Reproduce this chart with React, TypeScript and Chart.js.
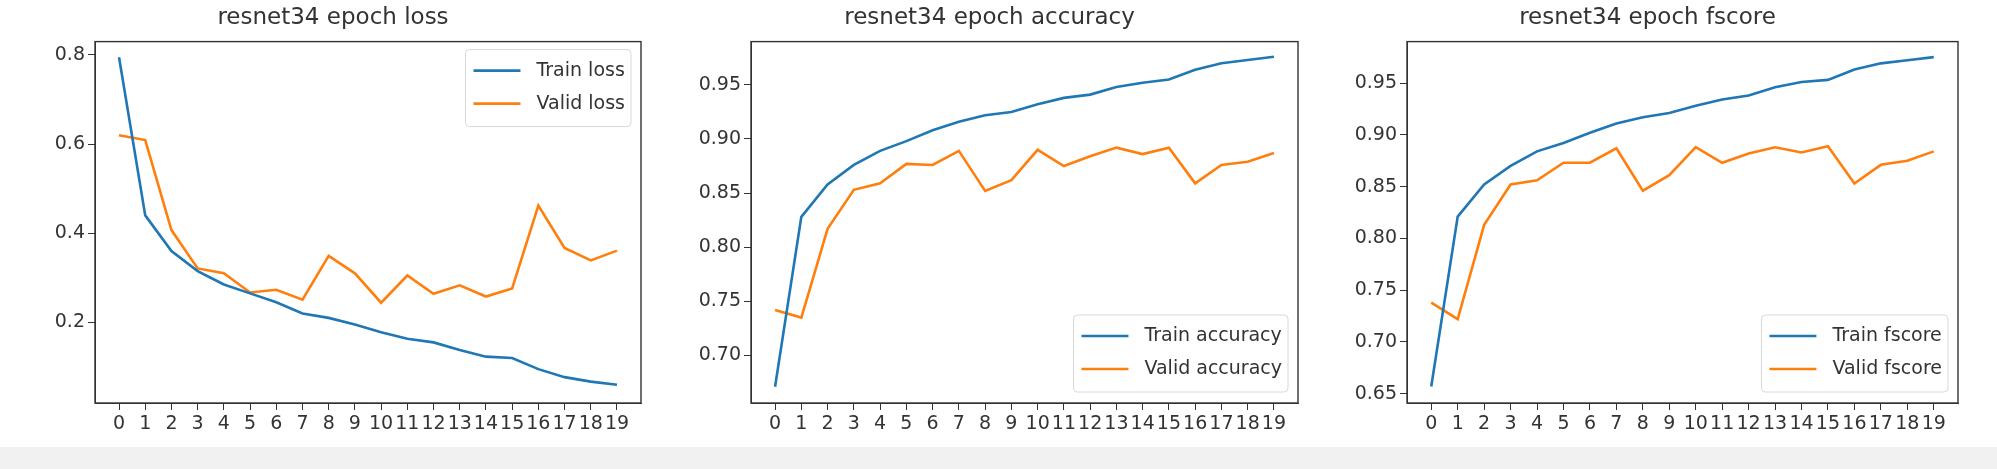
import React, { useEffect, useRef } from "react";
import { Chart, registerables } from "chart.js";

Chart.register(...registerables);

const epochs = [0, 1, 2, 3, 4, 5, 6, 7, 8, 9, 10, 11, 12, 13, 14, 15, 16, 17, 18, 19];

const trainLoss = [0.795, 0.44, 0.36, 0.315, 0.285, 0.265, 0.245, 0.22, 0.21, 0.195, 0.178, 0.163, 0.155, 0.138, 0.123, 0.12, 0.095, 0.077, 0.067, 0.06];
const validLoss = [0.62, 0.609, 0.407, 0.321, 0.31, 0.267, 0.273, 0.251, 0.349, 0.31, 0.244, 0.305, 0.264, 0.283, 0.258, 0.276, 0.462, 0.367, 0.339, 0.361];

const trainAcc = [0.671, 0.828, 0.858, 0.876, 0.889, 0.898, 0.908, 0.916, 0.922, 0.925, 0.932, 0.938, 0.941, 0.948, 0.952, 0.955, 0.964, 0.97, 0.973, 0.976];
const validAcc = [0.742, 0.735, 0.817, 0.853, 0.859, 0.877, 0.876, 0.889, 0.852, 0.862, 0.89, 0.875, 0.884, 0.892, 0.886, 0.892, 0.859, 0.876, 0.879, 0.887];

const trainF = [0.657, 0.821, 0.852, 0.87, 0.884, 0.892, 0.902, 0.911, 0.917, 0.921, 0.928, 0.934, 0.938, 0.946, 0.951, 0.953, 0.963, 0.969, 0.972, 0.975];
const validF = [0.738, 0.722, 0.813, 0.852, 0.856, 0.873, 0.873, 0.887, 0.846, 0.861, 0.888, 0.873, 0.882, 0.888, 0.883, 0.889, 0.853, 0.871, 0.875, 0.884];

const lossTicks = [0.2, 0.4, 0.6, 0.8];
const accTicks = [0.7, 0.75, 0.8, 0.85, 0.9, 0.95];
const fTicks = [0.65, 0.7, 0.75, 0.8, 0.85, 0.9, 0.95];

const BLUE = "#1f77b4";
const ORANGE = "#ff7f0e";
const FONT = "'DejaVu Sans', sans-serif";
const TXT = "#333";

type Panel = {
  title: string;
  names: [string, string];
  train: number[];
  valid: number[];
  ticks: number[];
  digits: number;
  min: number;
  max: number;
  legendTop: boolean;
  left: number;
  width: number;
};

const panels: Panel[] = [
  { title: "resnet34 epoch loss", names: ["Train loss", "Valid loss"], train: trainLoss, valid: validLoss, ticks: lossTicks, digits: 1, min: 0.019, max: 0.83, legendTop: true, left: 95, width: 546 },
  { title: "resnet34 epoch accuracy", names: ["Train accuracy", "Valid accuracy"], train: trainAcc, valid: validAcc, ticks: accTicks, digits: 2, min: 0.656, max: 0.99, legendTop: false, left: 751, width: 547 },
  { title: "resnet34 epoch fscore", names: ["Train fscore", "Valid fscore"], train: trainF, valid: validF, ticks: fTicks, digits: 2, min: 0.641, max: 0.99, legendTop: false, left: 1407, width: 551 },
];

const Y_W = 70;

const boxAndLegend = {
  id: "boxAndLegend",
  afterDraw(chart: any) {
    const { ctx, chartArea: a } = chart;
    const opts = chart.options.plugins.boxAndLegend;
    ctx.save();
    ctx.strokeStyle = "#333";
    ctx.lineWidth = 1.4;
    ctx.strokeRect(a.left, a.top, a.right - a.left, a.bottom - a.top);
    ctx.font = `19px ${FONT}`;
    const ds = chart.data.datasets;
    const tw = Math.max(...ds.map((d: any) => ctx.measureText(d.label).width));
    const w = 8 + 47 + 16 + tw + 6;
    const h = 77;
    const x = a.right - 10 - w;
    const y = opts.top ? a.top + 8 : a.bottom - 11 - h;
    ctx.fillStyle = "rgba(255,255,255,0.8)";
    ctx.strokeStyle = "#d8d8d8";
    ctx.lineWidth = 1;
    ctx.beginPath();
    ctx.roundRect(x, y, w, h, 4);
    ctx.fill();
    ctx.stroke();
    ds.forEach((d: any, i: number) => {
      const cy = y + 21 + i * 33;
      ctx.strokeStyle = d.borderColor;
      ctx.lineWidth = 2.6;
      ctx.beginPath();
      ctx.moveTo(x + 8, cy);
      ctx.lineTo(x + 55, cy);
      ctx.stroke();
      ctx.fillStyle = TXT;
      ctx.textBaseline = "middle";
      ctx.fillText(d.label, x + 71, cy);
    });
    ctx.restore();
  },
};

function PanelChart({ p }: { p: Panel }) {
  const ref = useRef<HTMLCanvasElement | null>(null);
  useEffect(() => {
    if (!ref.current) return;
    const chart = new Chart(ref.current, {
      type: "line",
      data: {
        datasets: [
          { label: p.names[0], data: epochs.map((e, i) => ({ x: e, y: p.train[i] })), borderColor: BLUE, borderWidth: 2.6, pointRadius: 0, tension: 0 },
          { label: p.names[1], data: epochs.map((e, i) => ({ x: e, y: p.valid[i] })), borderColor: ORANGE, borderWidth: 2.6, pointRadius: 0, tension: 0 },
        ],
      },
      options: {
        animation: false,
        responsive: false,
        layout: { padding: { left: 0, right: 10, top: 0, bottom: 0 } },
        plugins: {
          legend: { display: false },
          tooltip: { enabled: false },
          title: { display: true, text: p.title, color: TXT, font: { family: FONT, size: 23, weight: "normal" }, padding: { top: 4, bottom: 10 } },
          boxAndLegend: { top: p.legendTop },
        } as any,
        scales: {
          x: {
            type: "linear",
            min: -0.917,
            max: 19.917,
            afterBuildTicks: (s: any) => { s.ticks = epochs.map((v) => ({ value: v })); },
            afterFit: (s: any) => { s.height = 44; },
            ticks: { color: TXT, font: { family: FONT, size: 19 }, autoSkip: false, maxRotation: 0, minRotation: 0, padding: 3, callback: (v: any) => String(v) },
            grid: { drawOnChartArea: false, color: "#333", tickLength: 7 },
            border: { color: "#333" },
          },
          y: {
            min: p.min,
            max: p.max,
            afterBuildTicks: (s: any) => { s.ticks = p.ticks.map((v) => ({ value: v })); },
            afterFit: (s: any) => { s.width = Y_W; },
            ticks: { color: TXT, font: { family: FONT, size: 19 }, padding: 3, callback: (v: any) => Number(v).toFixed(p.digits) },
            grid: { drawOnChartArea: false, color: "#333", tickLength: 7 },
            border: { color: "#333" },
          },
        },
      },
      plugins: [boxAndLegend],
    });
    return () => chart.destroy();
  }, [p]);
  return (
    <canvas
      ref={ref}
      width={p.width + Y_W + 10}
      height={447}
      style={{ position: "absolute", left: p.left - Y_W, top: 0, width: p.width + Y_W + 10, height: 447 }}
    />
  );
}

export default function App() {
  return (
    <div style={{ position: "absolute", left: 0, top: 0, width: 1997, height: 469, background: "#fff", overflow: "hidden" }}>
      {panels.map((p) => (
        <PanelChart key={p.title} p={p} />
      ))}
      <div style={{ position: "absolute", left: 0, top: 447, width: 1997, height: 22, background: "#f1f1f1" }} />
    </div>
  );
}
